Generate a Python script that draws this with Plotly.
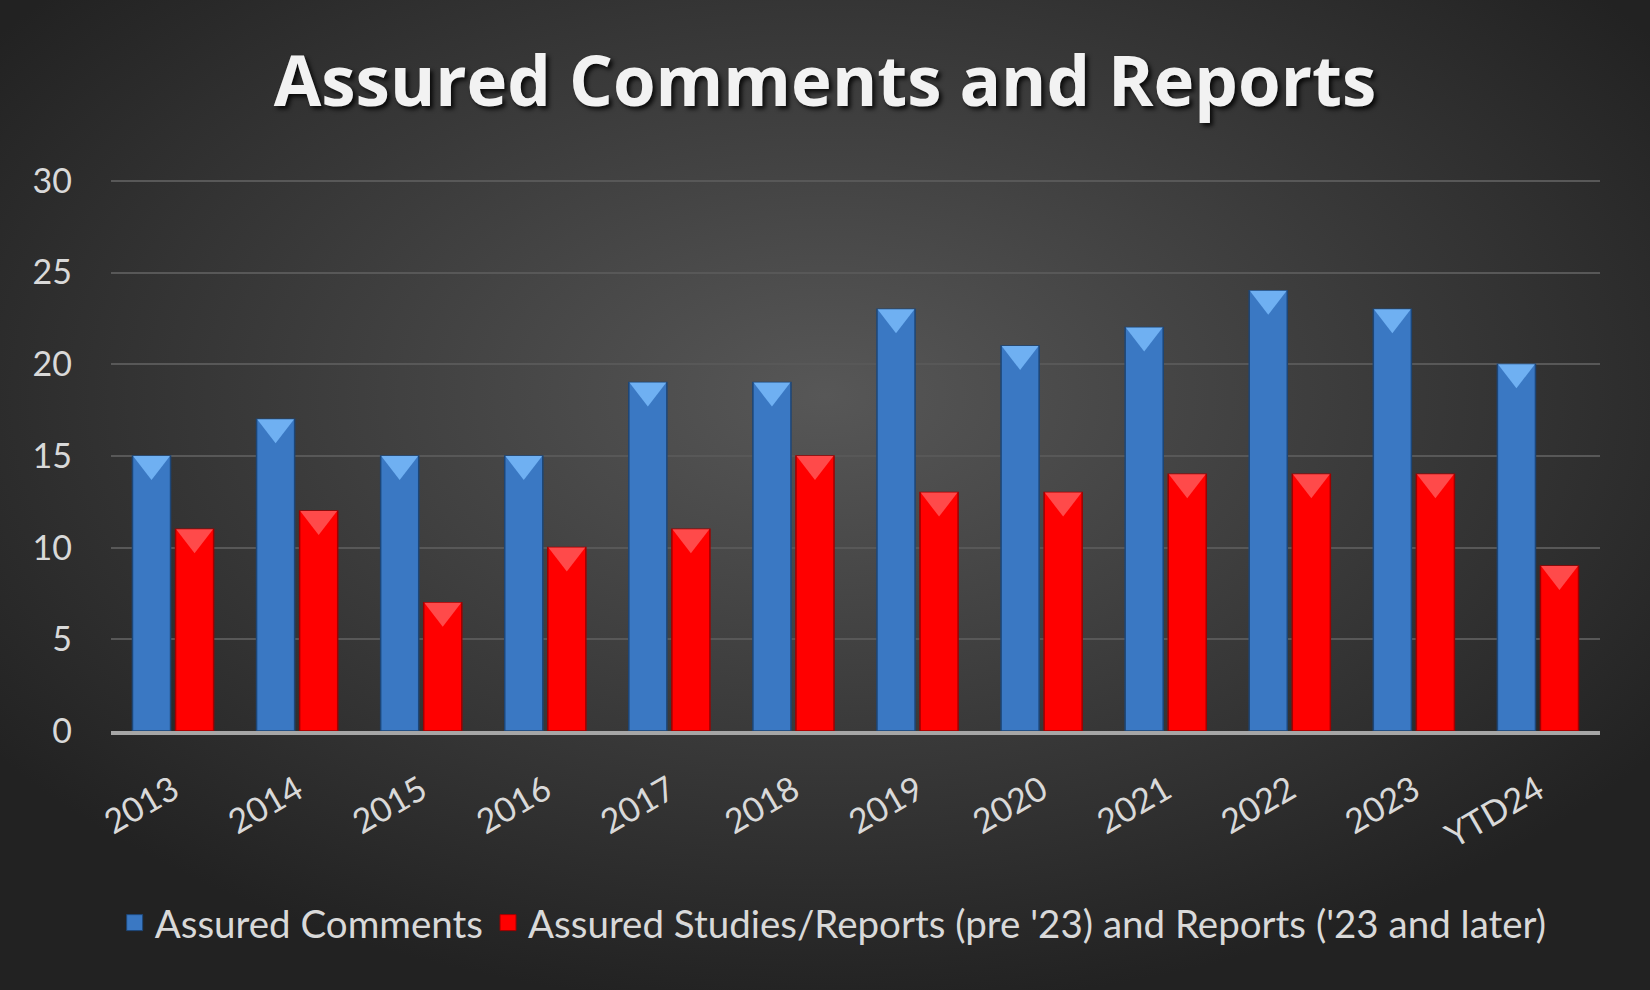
import base64
import plotly.graph_objects as go

categories = ["2013", "2014", "2015", "2016", "2017", "2018", "2019", "2020", "2021", "2022", "2023", "YTD24"]
assured_comments = [15, 17, 15, 15, 19, 19, 23, 21, 22, 24, 23, 20]
assured_reports = [11, 12, 7, 10, 11, 15, 13, 13, 14, 14, 14, 9]
y_ticks = [0, 5, 10, 15, 20, 25, 30]
name_comments = "Assured Comments"
name_reports = "Assured Studies/Reports (pre '23) and Reports ('23 and later)"

W, H = 1650, 990
ML, MR, MT, MB = 111, 50, 179, 259
PW, PH = W - ML - MR, H - MT - MB

svg = """<svg xmlns='http://www.w3.org/2000/svg' width='1650' height='990' preserveAspectRatio='none'>
<defs><radialGradient id='g' cx='50%' cy='40%' r='62%'>
<stop offset='0%' stop-color='#575757'/><stop offset='100%' stop-color='#222222'/>
</radialGradient></defs>
<rect width='1650' height='990' fill='url(#g)'/></svg>"""
bg_uri = "data:image/svg+xml;base64," + base64.b64encode(svg.encode()).decode()

fig = go.Figure()
fig.add_trace(go.Bar(
    x=categories, y=assured_comments, name=name_comments, offsetgroup="a",
    showlegend=False,
    marker=dict(color="#3a78c3", line=dict(color="#1d4677", width=1.5)),
))
fig.add_trace(go.Bar(
    x=categories, y=assured_reports, name=name_reports, offsetgroup="b",
    showlegend=False,
    marker=dict(color="#ff0000", line=dict(color="#a00000", width=1.5)),
))
# bevel chevrons at the top of each bar
fig.add_trace(go.Scatter(
    x=categories, y=assured_comments, mode="markers", offsetgroup="a",
    showlegend=False, hoverinfo="skip",
    marker=dict(symbol="triangle-down", angle=0, standoff=8, size=32,
                color="#6fb0f2", line=dict(width=0)),
))
fig.add_trace(go.Scatter(
    x=categories, y=assured_reports, mode="markers", offsetgroup="b",
    showlegend=False, hoverinfo="skip",
    marker=dict(symbol="triangle-down", angle=0, standoff=8, size=32,
                color="#ff4a4a", line=dict(width=0)),
))
# legend entries
fig.add_trace(go.Scatter(
    x=[None], y=[None], mode="markers", name=name_comments,
    marker=dict(symbol="square", size=22, color="#3a78c3",
                line=dict(color="#1d4677", width=1)),
))
fig.add_trace(go.Scatter(
    x=[None], y=[None], mode="markers", name=name_reports,
    marker=dict(symbol="square", size=22, color="#ff0000",
                line=dict(color="#a00000", width=1)),
))

fig.update_layout(
    width=W, height=H,
    paper_bgcolor="#333333", plot_bgcolor="rgba(0,0,0,0)",
    images=[dict(source=bg_uri, xref="paper", yref="paper",
                 x=-ML / PW, y=1 + MT / PH, sizex=W / PW, sizey=H / PH,
                 xanchor="left", yanchor="top", sizing="stretch", layer="below")],
    margin=dict(l=ML, r=MR, t=MT, b=MB),
    barmode="group", bargap=0.306, bargroupgap=0.116,
    scattermode="group", scattergap=0.306,
    title=dict(text="<b>Assured Comments and Reports</b>", x=0.5, xref="container",
               xanchor="center", y=0.917, yanchor="middle",
               font=dict(family="Open Sans", size=69, color="#f2f2f2",
                         shadow="3px 3px 4px rgba(0,0,0,0.8)")),
    font=dict(family="Lato", color="#d9d9d9"),
    showlegend=True,
    legend=dict(orientation="h", x=0.485, xanchor="center", y=-0.348, yanchor="middle",
                font=dict(size=38.5, color="#d9d9d9"), bgcolor="rgba(0,0,0,0)",
                itemwidth=30, tracegroupgap=0),
)
fig.update_yaxes(range=[0, 30.1], tickvals=y_ticks, showgrid=True,
                 gridcolor="#585858", gridwidth=2, zeroline=False,
                 tickfont=dict(size=34, color="#d9d9d9"), ticks="", showline=False,
                 ticklabelstandoff=38)
fig.update_xaxes(showline=True, linecolor="#a6a6a6", linewidth=4, ticks="",
                 tickangle=-30, tickfont=dict(size=34, color="#d9d9d9"),
                 ticklabelstandoff=22)

fig.write_html("out.html")
